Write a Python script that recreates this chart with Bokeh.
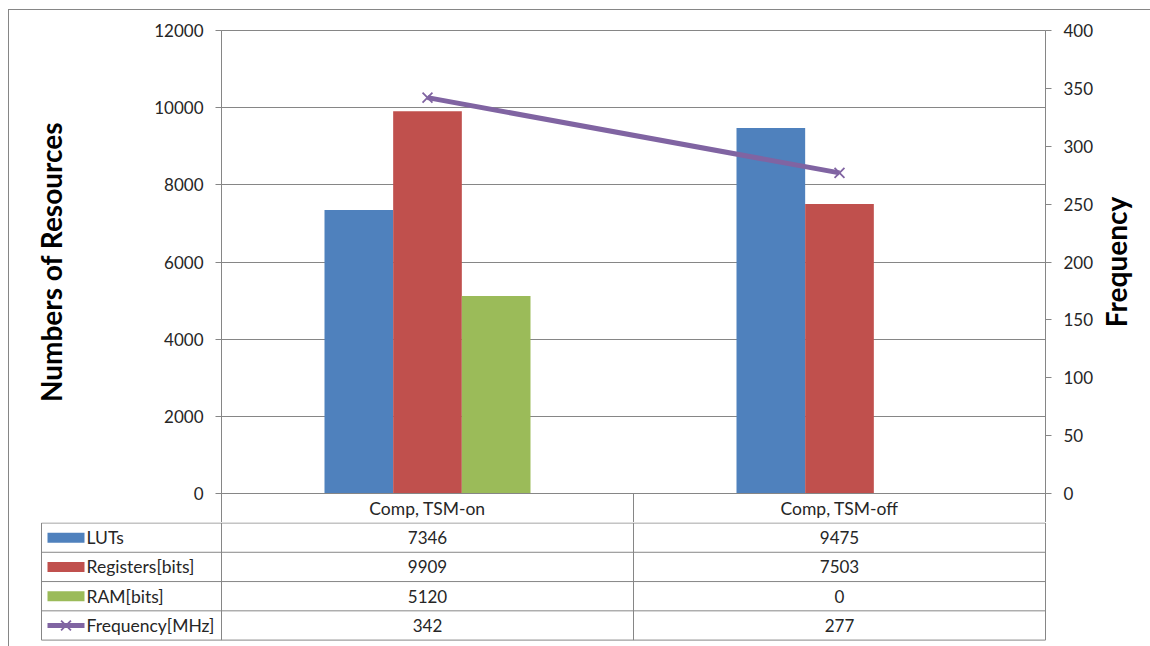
import math
from bokeh.plotting import figure
from bokeh.layouts import column, row
from bokeh.models import Range1d, LinearAxis, FixedTicker, ColumnDataSource
from bokeh.transform import dodge
from bokeh.core.properties import value
from bokeh.embed import file_html
from bokeh.resources import INLINE

# ---- data -------------------------------------------------------------
categories = ["Comp, TSM-on", "Comp, TSM-off"]
luts = [7346, 9475]
registers = [9909, 7503]
ram = [5120, 0]
frequency = [342, 277]

series_names = ["LUTs", "Registers[bits]", "RAM[bits]", "Frequency[MHz]"]
bar_colors = ["#4F81BD", "#C0504D", "#9BBB59"]
line_color = "#8064A2"

resource_ticks = [0, 2000, 4000, 6000, 8000, 10000, 12000]
frequency_ticks = [0, 50, 100, 150, 200, 250, 300, 350, 400]

# ---- page geometry (page pixels) -------------------------------------
FONT = "Lato"
GRID = "#868686"
TEXT = "#262626"
NUM_SIZE = "17px"
WORD_SIZE = "17.5px"
LINE_W = 5
MARK_SIZE = 14

W, H = 1150, 646
ORIGIN_X, ORIGIN_Y = 9, 10      # inside the 1px chart border
FRAME_L, FRAME_R = 221, 1045    # plot area
FRAME_T, ZERO_Y = 30, 493       # top of plot area, baseline
HEADER_B = 522                  # bottom of the category row
TITLE_L = 1098                  # strip holding the right-hand title
TITLE_X = 1115                  # centre line of the right-hand title
TABLE_L = 41                    # left edge of the legend column
ROW_PX = 29.4                   # height of one table row

n = len(categories)
cat_px = (FRAME_R - FRAME_L) / n
res_max = resource_ticks[-1]
freq_max = frequency_ticks[-1]
x_mid = [i + 0.5 for i in range(n)]
header_px = HEADER_B - ZERO_Y

# ---- chart ------------------------------------------------------------
pa = figure(width=TITLE_L - ORIGIN_X, height=HEADER_B - ORIGIN_Y,
            x_range=Range1d(0, n), y_range=Range1d(0, res_max),
            output_backend="svg", toolbar_location=None,
            min_border_left=FRAME_L - ORIGIN_X, min_border_right=TITLE_L - FRAME_R,
            min_border_top=FRAME_T - ORIGIN_Y, min_border_bottom=header_px)
pa.title.visible = False
pa.outline_line_color = GRID
pa.xgrid.visible = False
pa.ygrid.ticker = FixedTicker(ticks=resource_ticks)
pa.ygrid.grid_line_color = GRID
pa.extra_y_ranges = {"freq": Range1d(0, freq_max)}

src = ColumnDataSource(dict(x=x_mid, luts=luts, registers=registers,
                            ram=ram, freq=frequency))
bar_w = 1 / 6
for col, color, off in zip(["luts", "registers", "ram"], bar_colors,
                           [-bar_w, 0, bar_w]):
    pa.vbar(x=dodge("x", off), top=col, width=bar_w,
            source=src, fill_color=color, line_color=None)

pa.line(x="x", y="freq", source=src, y_range_name="freq",
        line_color=line_color, line_width=LINE_W)
pa.scatter(x="x", y="freq", source=src, y_range_name="freq",
           marker="x", size=MARK_SIZE, line_color=line_color, line_width=1.8)


def style_axis(ax):
    ax.major_label_text_font = FONT
    ax.major_label_text_font_size = NUM_SIZE
    ax.major_label_text_color = TEXT
    ax.major_label_standoff = 12
    ax.major_tick_out = 6
    ax.major_tick_in = 0
    ax.minor_tick_out = 0
    ax.minor_tick_in = 0
    ax.major_tick_line_color = GRID
    ax.axis_line_color = GRID


left_ax = pa.yaxis[0]
left_ax.ticker = FixedTicker(ticks=resource_ticks)
style_axis(left_ax)
left_ax.axis_label = "Numbers of Resources"
left_ax.axis_label_text_font = FONT
left_ax.axis_label_text_font_style = "bold"
left_ax.axis_label_text_font_size = "28px"
left_ax.axis_label_text_color = "black"
left_ax.axis_label_standoff = 83

right_ax = LinearAxis(y_range_name="freq", ticker=FixedTicker(ticks=frequency_ticks))
style_axis(right_ax)
pa.add_layout(right_ax, "right")

# category row of the table: names centred, boundaries as minor ticks
bottom_ax = pa.xaxis[0]
bottom_ax.ticker = FixedTicker(ticks=x_mid, minor_ticks=list(range(n + 1)))
bottom_ax.major_label_overrides = {m: c for m, c in zip(x_mid, categories)}
bottom_ax.major_label_text_font = FONT
bottom_ax.major_label_text_font_size = WORD_SIZE
bottom_ax.major_label_text_color = TEXT
bottom_ax.major_tick_out = 0
bottom_ax.major_tick_in = 0
bottom_ax.minor_tick_out = header_px
bottom_ax.minor_tick_in = 0
bottom_ax.major_label_standoff = 4 - header_px   # labels sit inside the row
bottom_ax.minor_tick_line_color = GRID
bottom_ax.axis_line_color = GRID

# ---- right-hand title strip -------------------------------------------
pt = figure(width=W - TITLE_L, height=HEADER_B - ORIGIN_Y,
            x_range=Range1d(TITLE_L, W), y_range=Range1d(0, 1),
            output_backend="svg", toolbar_location=None,
            min_border_left=0, min_border_right=0,
            min_border_top=FRAME_T - ORIGIN_Y, min_border_bottom=header_px)
pt.title.visible = False
pt.outline_line_color = None
pt.axis.visible = False
pt.grid.visible = False
pt.text(x=[TITLE_X], y=[0.5], text=["Frequency"], angle=math.pi / 2,
        text_font=value(FONT), text_font_style="bold", text_font_size="28px",
        text_color="black", text_align="center", text_baseline="middle")

# ---- data table body --------------------------------------------------
rows = [luts, registers, ram, frequency]
n_rows = len(rows)
B_FRAME_L, B_FRAME_R, B_FRAME_B = TABLE_L - 1, FRAME_R + 1, 641


def page_x(px):
    """page pixel -> table x coordinate (one unit per category)"""
    return (px - FRAME_L) / cat_px


def page_y(py):
    """page pixel -> table row coordinate (one unit per row)"""
    return (py - HEADER_B) / ROW_PX


pb = figure(width=W - ORIGIN_X, height=H - HEADER_B,
            x_range=Range1d(page_x(B_FRAME_L), page_x(B_FRAME_R)),
            y_range=Range1d(page_y(B_FRAME_B), page_y(HEADER_B - 0.5)),
            output_backend="svg", toolbar_location=None,
            min_border_left=B_FRAME_L - ORIGIN_X, min_border_right=W - B_FRAME_R,
            min_border_top=0, min_border_bottom=H - B_FRAME_B)
pb.title.visible = False
pb.outline_line_color = None
pb.axis.visible = False
pb.grid.visible = False

x_left = page_x(TABLE_L)
h_edges = list(range(0, n_rows + 1))
pb.segment(x0=[x_left] * len(h_edges), x1=[n] * len(h_edges),
           y0=h_edges, y1=h_edges, line_color=GRID)
v_edges = [x_left] + list(range(n + 1))
pb.segment(x0=v_edges, x1=v_edges, y0=[0] * len(v_edges),
           y1=[n_rows] * len(v_edges), line_color=GRID)

centers = [k + 0.5 for k in range(n_rows)]
for k, vals in enumerate(rows):
    pb.text(x=x_mid, y=[centers[k]] * n, text=[str(v) for v in vals],
            text_font=value(FONT), text_font_size=NUM_SIZE, text_color=TEXT,
            text_align="center", text_baseline="middle")

# legend keys and series names
key_x = page_x(65.5)
pb.rect(x=[key_x] * 3, y=centers[:3], width=37, height=10,
        width_units="screen", height_units="screen",
        fill_color=bar_colors, line_color=None)
pb.segment(x0=[page_x(47)], x1=[page_x(84)], y0=[centers[3]], y1=[centers[3]],
           line_color=line_color, line_width=LINE_W)
pb.scatter(x=[key_x], y=[centers[3]], marker="x", size=MARK_SIZE,
           line_color=line_color, line_width=1.8)
pb.text(x=[page_x(86)] * len(series_names), y=centers, text=series_names,
        text_font=value(FONT), text_font_size=WORD_SIZE, text_color=TEXT,
        text_align="left", text_baseline="middle")

layout = column(row(pa, pt, spacing=0), row(pb, spacing=0), spacing=0,
                margin=(ORIGIN_Y - 1, 0, 0, ORIGIN_X - 1),
                styles={"border-left": f"1px solid {GRID}",
                        "border-top": f"1px solid {GRID}"})

open("out.html", "w").write(file_html(layout, INLINE))
